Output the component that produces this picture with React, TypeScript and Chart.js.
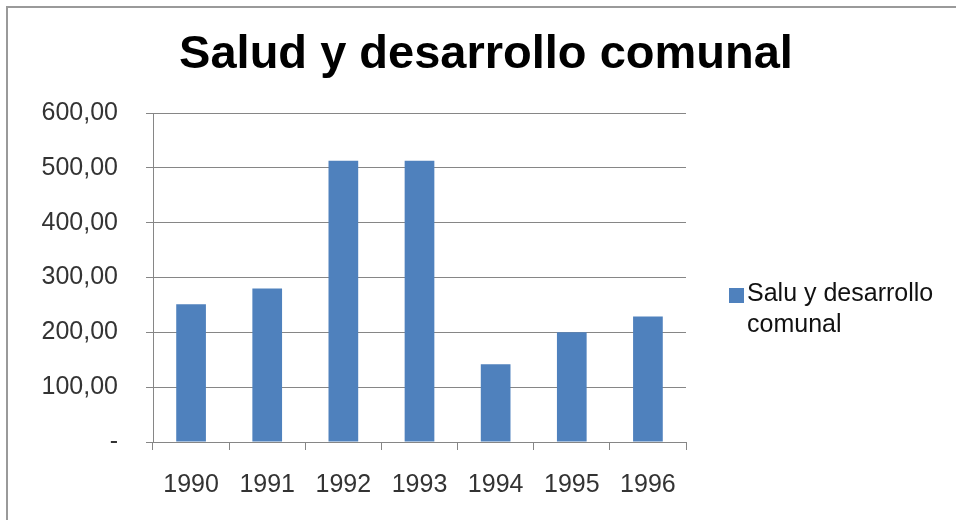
import React, { useEffect, useRef } from "react";
import { Chart, registerables } from "chart.js";

Chart.register(...registerables);

const categories = ["1990", "1991", "1992", "1993", "1994", "1995", "1996"];
const values = [251, 280, 513, 513, 142, 200, 229];
const seriesLabel = "Salu y desarrollo comunal";
const chartTitle = "Salud y desarrollo comunal";
const yTickValues = [0, 100, 200, 300, 400, 500, 600];
const yTickLabels = ["-", "100,00", "200,00", "300,00", "400,00", "500,00", "600,00"];

const FONT = "'Liberation Sans', Arial, sans-serif";
const BAR_COLOR = "#4F81BD";
const GRID_COLOR = "#868686";
const TEXT_COLOR = "#333333";

const textPlugin = {
  id: "textPlugin",
  afterDraw(chart: any) {
    const ctx = chart.ctx as CanvasRenderingContext2D;
    const area = chart.chartArea;
    ctx.save();
    // title
    ctx.fillStyle = "#000000";
    ctx.font = `bold 47px ${FONT}`;
    ctx.textAlign = "center";
    ctx.textBaseline = "alphabetic";
    ctx.fillText(chartTitle, 478, 60);
    // legend
    ctx.font = `25px ${FONT}`;
    ctx.textAlign = "left";
    const words = seriesLabel.split(" ");
    const lines: string[] = [];
    let cur = "";
    for (const w of words) {
      const t = cur ? cur + " " + w : w;
      if (ctx.measureText(t).width > 200 && cur) {
        lines.push(cur);
        cur = w;
      } else cur = t;
    }
    if (cur) lines.push(cur);
    const lx = area.right + 43;
    const ly = 280;
    ctx.fillStyle = BAR_COLOR;
    ctx.fillRect(lx, ly, 15, 15);
    ctx.fillStyle = "#111111";
    lines.forEach((ln, i) => ctx.fillText(ln, lx + 18, ly + 13 + i * 31));
    ctx.restore();
  },
};

export default function App() {
  const ref = useRef<HTMLCanvasElement>(null);
  useEffect(() => {
    if (!ref.current) return;
    const chart = new Chart(ref.current, {
      type: "bar",
      data: {
        labels: categories,
        datasets: [
          {
            label: seriesLabel,
            data: values,
            backgroundColor: BAR_COLOR,
            borderWidth: 0,
            categoryPercentage: 1,
            barPercentage: 0.39,
          },
        ],
      },
      options: {
        animation: false,
        responsive: false,
        devicePixelRatio: 1,
        layout: { padding: { left: 0, right: 270, top: 105, bottom: 0 } },
        plugins: {
          legend: { display: false },
          title: { display: false },
          tooltip: { enabled: false },
        },
        scales: {
          x: {
            grid: {
              display: true,
              drawOnChartArea: false,
              drawTicks: true,
              tickLength: 8,
              color: GRID_COLOR,
              offset: true,
            },
            border: { display: true, color: GRID_COLOR, width: 1 },
            ticks: { font: { family: FONT, size: 25 }, color: TEXT_COLOR, padding: 20 },
            afterFit: (s: any) => {
              s.height = 78;
            },
          },
          y: {
            min: 0,
            max: 600,
            afterBuildTicks: (s: any) => {
              s.ticks = yTickValues.map((v) => ({ value: v }));
            },
            ticks: {
              callback: (_v: any, i: number) => yTickLabels[i],
              font: { family: FONT, size: 25 },
              color: TEXT_COLOR,
              padding: 28,
            },
            grid: { color: GRID_COLOR, tickLength: 7, drawTicks: true },
            border: { display: true, color: GRID_COLOR, width: 1 },
            afterFit: (s: any) => {
              s.width = 145;
            },
          },
        },
      },
      plugins: [textPlugin],
    });
    return () => chart.destroy();
  }, []);
  return (
    <div
      style={{
        position: "absolute",
        left: 6,
        top: 6,
        width: 950,
        height: 514,
        borderTop: "2px solid #9a9a9a",
        borderLeft: "2px solid #9a9a9a",
      }}
    >
      <canvas ref={ref} width={948} height={512} style={{ display: "block" }} />
    </div>
  );
}
